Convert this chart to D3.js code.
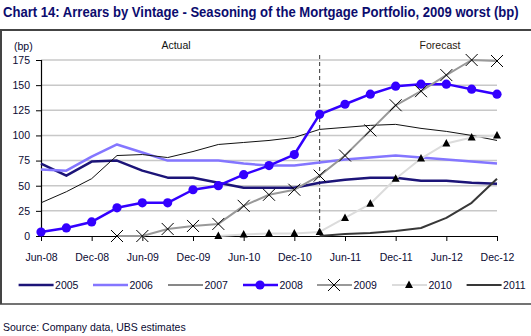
<!DOCTYPE html>
<html><head><meta charset="utf-8">
<script src="https://cdn.jsdelivr.net/npm/d3@7"></script>
<style>
html,body{margin:0;padding:0;background:#fff;}
svg{display:block;font-family:Arial,"Liberation Sans",sans-serif;}
</style></head>
<body>
<svg id="c" width="531" height="336"></svg>
<script>
const quarters = ["Jun-08","Sep-08","Dec-08","Mar-09","Jun-09","Sep-09","Dec-09","Mar-10","Jun-10","Sep-10","Dec-10","Mar-11","Jun-11","Sep-11","Dec-11","Mar-12","Jun-12","Sep-12","Dec-12"];
const tickLabels = ["Jun-08","Dec-08","Jun-09","Dec-09","Jun-10","Dec-10","Jun-11","Dec-11","Jun-12","Dec-12"];
const yTicks = [0,25,50,75,100,125,150,175];
const forecastStart = "Mar-11";

const v2005 = [72,60,74,75,65,58,58,53,48,48,48,53,56,58,58,55,55,53,52];
const v2006 = [66,65,79,91,83,75,75,75,72,70,70,73,76,78,80,78,76,74,72];
const v2007 = [33,44,57,80,81,78,84,91,93,95,98,106,108,110,111,107,104,100,95];
const v2008 = [4,8,14,28,33,33,46,50,61,70,81,121,131,141,149,151,151,146,141];
const v2009 = [null,null,null,0,0,7,10,12,30,41,46,60,80,105,130,144,160,175,174];
const v2010 = [null,null,null,null,null,null,null,0,1.5,2.5,2.5,4,18,32,57,77,92,98,100];
const v2011 = [null,null,null,null,null,null,null,null,null,null,null,0,2,3,5,8,18,33,57];

const seriesNames = ["2005","2006","2007","2008","2009","2010","2011"];
const seriesValues = [v2005,v2006,v2007,v2008,v2009,v2010,v2011];
const styles = {
  "2005":{color:"#1c1478",w:2.5,marker:null},
  "2006":{color:"#8476ff",w:2.5,marker:null},
  "2007":{color:"#111111",w:1,marker:null},
  "2008":{color:"#3300ff",w:2.5,marker:"circle"},
  "2009":{color:"#999999",w:2,marker:"x"},
  "2010":{color:"#dcdcdc",w:2,marker:"tri"},
  "2011":{color:"#383838",w:2,marker:null}
};

const svg = d3.select("#c");
const textCol = "#0a0a33";

// frame
svg.append("line").attr("x1",0).attr("x2",531).attr("y1",30).attr("y2",30).attr("stroke","#444").attr("stroke-width",2);
svg.append("line").attr("x1",1).attr("x2",1).attr("y1",30).attr("y2",304).attr("stroke","#444").attr("stroke-width",2);
svg.append("line").attr("x1",0).attr("x2",531).attr("y1",304).attr("y2",304).attr("stroke","#444").attr("stroke-width",1.5);

const title = svg.append("text").attr("x",0).attr("y",0)
  .attr("font-size",14.5).attr("font-weight","bold").attr("fill","#0c0c6e")
  .text("Chart 14: Arrears by Vintage - Seasoning of the Mortgage Portfolio, 2009 worst (bp)");
const tw = title.node().getComputedTextLength();
const sx = Math.min(1, 516 / tw);
title.attr("transform",`translate(3,17) scale(${sx},1)`);

svg.append("text").attr("x",3).attr("y",331).attr("font-size",10.5).attr("fill",textCol)
  .text("Source: Company data, UBS estimates");

const x = d3.scalePoint().domain(quarters).range([41,497]);
const y = d3.scaleLinear().domain([0,175]).range([236,60]);

// grid
svg.append("g").selectAll("line").data(yTicks.filter(d=>d>0)).join("line")
  .attr("x1",41).attr("x2",497).attr("y1",d=>y(d)).attr("y2",d=>y(d))
  .attr("stroke","#c8c8c8").attr("stroke-width",1.5);

// axes
const ya = svg.append("g").attr("transform","translate(41,0)")
  .call(d3.axisLeft(y).tickValues(yTicks).tickSize(5).tickPadding(6).tickFormat(d3.format("d")));
ya.select(".domain").attr("stroke","#000").attr("stroke-width",1.2);
ya.selectAll(".tick line").attr("stroke","#000");
ya.selectAll("text").attr("font-size",10.5).attr("fill",textCol).attr("font-family","Arial,'Liberation Sans',sans-serif");

const xa = svg.append("g").attr("transform","translate(0,236)")
  .call(d3.axisBottom(x).tickValues(tickLabels).tickSize(5).tickPadding(13).tickSizeOuter(0));
xa.select(".domain").attr("stroke","#000").attr("stroke-width",1.2);
xa.selectAll(".tick line").attr("stroke","#000");
xa.selectAll("text").attr("font-size",10.5).attr("fill",textCol).attr("font-family","Arial,'Liberation Sans',sans-serif");

svg.append("text").attr("x",14).attr("y",50).attr("font-size",10.5).attr("fill",textCol).text("(bp)");
svg.append("text").attr("x",176).attr("y",49).attr("text-anchor","middle").attr("font-size",10.5).attr("fill","#111").text("Actual");
svg.append("text").attr("x",440).attr("y",49).attr("text-anchor","middle").attr("font-size",10.5).attr("fill","#2a1a10").text("Forecast");

// forecast divider
svg.append("line").attr("x1",x(forecastStart)).attr("x2",x(forecastStart)).attr("y1",55).attr("y2",236)
  .attr("stroke","#333").attr("stroke-width",1).attr("stroke-dasharray","4,3");

const line = d3.line().defined(d=>d.v!==null).x(d=>x(d.q)).y(d=>y(d.v));

function drawMarker(g, type, cx, cy){
  if(type==="circle"){
    g.append("circle").attr("cx",cx).attr("cy",cy).attr("r",4.6).attr("fill","#3300ff");
  } else if(type==="x"){
    const s=6;
    g.append("path").attr("d",`M${cx-s},${cy-s}L${cx+s},${cy+s}M${cx-s},${cy+s}L${cx+s},${cy-s}`)
      .attr("stroke","#000").attr("stroke-width",1).attr("fill","none");
  } else if(type==="tri"){
    g.append("path").attr("d",`M${cx},${cy-4.5}L${cx+4},${cy+3}L${cx-4},${cy+3}Z`).attr("fill","#000");
  }
}

seriesNames.forEach((name,i)=>{
  const st = styles[name];
  const pts = seriesValues[i].map((v,j)=>({q:quarters[j],v:v}));
  const g = svg.append("g");
  g.append("path").datum(pts).attr("d",line).attr("fill","none")
    .attr("stroke",st.color).attr("stroke-width",st.w).attr("stroke-linejoin","round");
  if(st.marker){
    pts.filter(d=>d.v!==null).forEach(d=>drawMarker(g,st.marker,x(d.q),y(d.v)));
  }
});

// legend
const legX = [18.6,93,168,243,317,392,466.6];
const leg = svg.append("g");
seriesNames.forEach((name,i)=>{
  const st = styles[name];
  const lx = legX[i], ly = 285;
  leg.append("line").attr("x1",lx).attr("x2",lx+35).attr("y1",ly).attr("y2",ly)
    .attr("stroke",st.color).attr("stroke-width",st.w);
  if(st.marker) drawMarker(leg, st.marker, lx+17, ly);
  leg.append("text").attr("x",lx+36.5).attr("y",ly+4).attr("font-size",10.5).attr("fill",textCol).text(name);
});
</script>
</body></html>
